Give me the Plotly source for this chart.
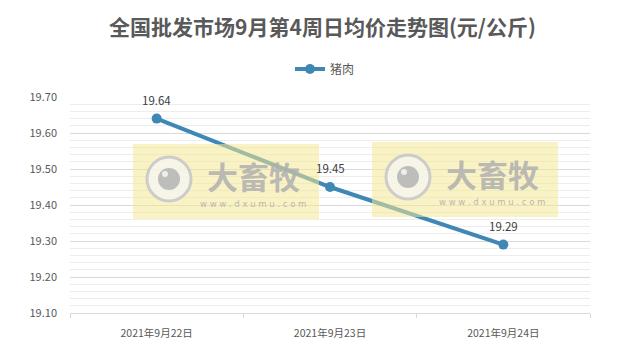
import plotly.graph_objects as go

categories = ["2021年9月22日", "2021年9月23日", "2021年9月24日"]
pork = [19.64, 19.45, 19.29]
series_name = "猪肉"
title = "全国批发市场9月第4周日均价走势图(元/公斤)"

W, H = 631, 351
L, R, T, B = 70, 41, 97, 38
PW, PH = W - L - R, H - T - B


def px(x):
    return (x - L) / PW


def py(y):
    return (H - B - y) / PH


line_color = "#3f87b4"
xs = list(range(len(categories)))

fig = go.Figure()
fig.add_trace(go.Scatter(
    x=xs, y=pork, mode="lines+markers", name=series_name,
    line=dict(color=line_color, width=4),
    marker=dict(color=line_color, size=10),
))

shapes = []
annotations = []
for xi, v in zip(xs, pork):
    annotations.append(dict(x=xi, y=v, xref="x", yref="y", text=f"{v:.2f}", showarrow=False,
                            xanchor="center", yanchor="middle", yshift=19,
                            font=dict(size=11.5, color="#404040")))

for ox, oy in [(0, 0), (239, -2)]:
    shapes.append(dict(type="rect", xref="paper", yref="paper",
                       x0=px(133 + ox), x1=px(319 + ox), y0=py(219 + oy), y1=py(144 + oy),
                       fillcolor="rgba(244,232,150,0.55)", line=dict(width=0), layer="above"))
    cx, cy = 169 + ox, 179 + oy
    shapes.append(dict(type="circle", xref="paper", yref="paper",
                       x0=px(cx - 22), x1=px(cx + 22), y0=py(cy + 22), y1=py(cy - 22),
                       fillcolor="rgba(245,245,240,0.8)", line=dict(color="rgba(200,200,200,0.9)", width=3),
                       layer="above"))
    shapes.append(dict(type="circle", xref="paper", yref="paper",
                       x0=px(cx - 11), x1=px(cx + 11), y0=py(cy + 11), y1=py(cy - 11),
                       fillcolor="rgba(185,185,185,0.95)", line=dict(width=0), layer="above"))
    shapes.append(dict(type="circle", xref="paper", yref="paper",
                       x0=px(cx - 7), x1=px(cx - 1), y0=py(cy - 2), y1=py(cy - 8),
                       fillcolor="rgba(240,240,240,0.95)", line=dict(width=0), layer="above"))
    annotations.append(dict(text="<b>大畜牧</b>", xref="paper", yref="paper",
                            x=px(253 + ox), y=py(175.5 + oy), showarrow=False,
                            xanchor="center", yanchor="middle",
                            font=dict(size=31, color="rgba(175,175,175,0.85)",
                                      family="Noto Sans CJK SC")))
    annotations.append(dict(text="w w w . d x u m u . c o m", xref="paper", yref="paper",
                            x=px(253 + ox), y=py(203.5 + oy), showarrow=False,
                            xanchor="center", yanchor="middle",
                            font=dict(size=8.5, color="rgba(175,175,175,0.9)", family="DejaVu Sans")))

fig.update_layout(
    width=W, height=H,
    margin=dict(l=L, r=R, t=T, b=B),
    paper_bgcolor="white", plot_bgcolor="white",
    font=dict(family="Noto Sans CJK SC, Microsoft YaHei, sans-serif", color="#595959"),
    title=dict(text="<b>" + title + "</b>", x=322.5 / W, xanchor="center", y=1 - 27.5 / H,
               yanchor="middle", font=dict(size=21, color="#595959")),
    showlegend=True,
    legend=dict(orientation="h", x=px(290), xanchor="left", y=1 + (T - 69) / PH, yanchor="middle",
                font=dict(size=12, color="#595959")),
    xaxis=dict(range=[-0.5, len(categories) - 0.5], tickvals=xs, ticktext=categories,
               showgrid=False, zeroline=False, showline=True, linecolor="#d9d9d9", linewidth=1,
               ticks="", tickfont=dict(size=10.5, color="#595959"), ticklabelstandoff=10,
               minor=dict(tickvals=[i - 0.5 for i in range(len(categories) + 1)], ticks="outside",
                          ticklen=4, tickcolor="#d9d9d9", showgrid=False)),
    yaxis=dict(range=[19.10, 19.70], dtick=0.1, tick0=19.1, tickformat=".2f",
               showgrid=True, gridcolor="#d9d9d9", gridwidth=1, zeroline=False,
               showline=False, ticks="", tickfont=dict(size=11, color="#595959"),
               ticklabelstandoff=12,
               minor=dict(dtick=0.02, showgrid=True, gridcolor="#ededed", gridwidth=1)),
    shapes=shapes, annotations=annotations,
)

fig.write_html("out.html")
